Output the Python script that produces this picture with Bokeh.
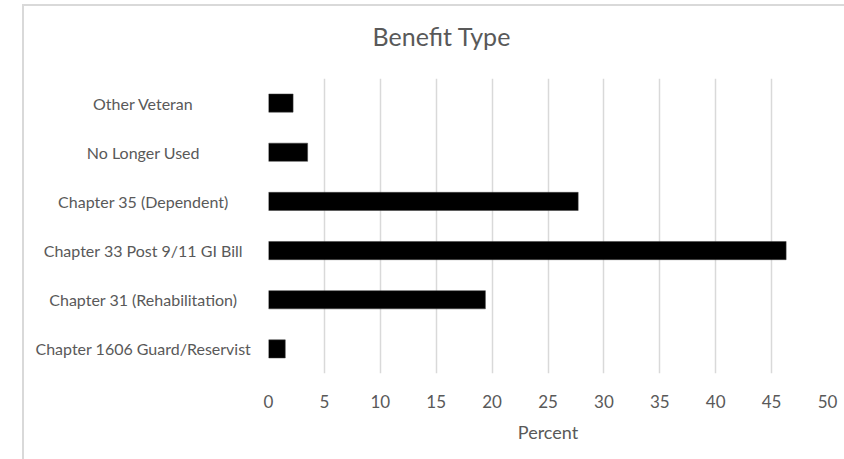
from bokeh.plotting import figure
from bokeh.models import ColumnDataSource, FactorRange, Range1d
from bokeh.layouts import row, column
from bokeh.core.properties import value
from bokeh.embed import file_html
from bokeh.resources import INLINE

categories = ["Other Veteran", "No Longer Used", "Chapter 35 (Dependent)",
              "Chapter 33 Post 9/11 GI Bill", "Chapter 31 (Rehabilitation)",
              "Chapter 1606 Guard/Reservist"]
percent = [2.2, 3.5, 27.7, 46.3, 19.4, 1.5]
x_ticks = [0, 5, 10, 15, 20, 25, 30, 35, 40, 45, 50]

FONT = "Lato"
TXT = "#595959"
GRID = "#d9d9d9"

order = categories[::-1]
y_range = FactorRange(*order)
src = ColumnDataSource(dict(cat=categories, val=percent, lx=[0.5] * len(categories)))

transparent = dict(border_fill_alpha=0, background_fill_alpha=0)

# title strip
tp = figure(width=844, height=60, output_backend="svg", toolbar_location=None,
            x_range=Range1d(0, 50), y_range=Range1d(0, 1),
            min_border_left=268, min_border_right=17, min_border_top=55, min_border_bottom=0,
            **transparent)
tp.title.text = "Benefit Type"
tp.title.align = "left"
tp.title.offset = 104
tp.title.text_font = FONT
tp.title.text_font_size = "25px"
tp.title.text_font_style = "normal"
tp.title.text_color = TXT
tp.title.standoff = 10
tp.xaxis.visible = False
tp.yaxis.visible = False
tp.grid.grid_line_color = None
tp.outline_line_color = None

common = dict(height=399, output_backend="svg", toolbar_location=None,
              y_range=y_range, min_border_top=18, min_border_bottom=86, **transparent)

# category label column (labels centred, as in the reference)
lp = figure(width=258, x_range=Range1d(-0.12, 1), min_border_left=0, min_border_right=0, **common)
lp.text(x="lx", y="cat", text="cat", source=src, text_align="center",
        text_baseline="middle", text_font=value(FONT), text_font_size="16px",
        text_color=TXT)
lp.xaxis.visible = False
lp.yaxis.visible = False
lp.grid.grid_line_color = None
lp.outline_line_color = None

# bar panel
p = figure(width=586, x_range=Range1d(0, 50), min_border_left=10, min_border_right=17, **common)
p.outline_line_color = None
p.hbar(y="cat", right="val", left=0, height=0.37, source=src,
       fill_color="black", line_color="#404040", line_width=0.5)

p.yaxis.visible = False
p.ygrid.grid_line_color = None

xa = p.xaxis[0]
xa.ticker = x_ticks
xa.axis_line_color = None
xa.major_tick_line_color = None
xa.minor_tick_line_color = None
xa.major_label_text_font = FONT
xa.major_label_text_font_size = "17px"
xa.major_label_text_color = TXT
xa.major_label_standoff = 15
xa.axis_label = "Percent"
xa.axis_label_text_font = FONT
xa.axis_label_text_font_size = "18px"
xa.axis_label_text_font_style = "normal"
xa.axis_label_text_color = TXT
xa.axis_label_standoff = 10

p.xgrid.ticker = x_ticks
p.xgrid.grid_line_color = GRID
p.xgrid.grid_line_width = 1.5

frame_css = ("linear-gradient(#d9d9d9, #d9d9d9) 22px 4px / 2px 100% no-repeat, "
             "linear-gradient(#d9d9d9, #d9d9d9) 22px 4px / 100% 2px no-repeat, white")
layout = column(tp, row(lp, p, margin=0), margin=0, spacing=0,
                styles={"background": frame_css})

open("out.html", "w").write(file_html(layout, INLINE))
